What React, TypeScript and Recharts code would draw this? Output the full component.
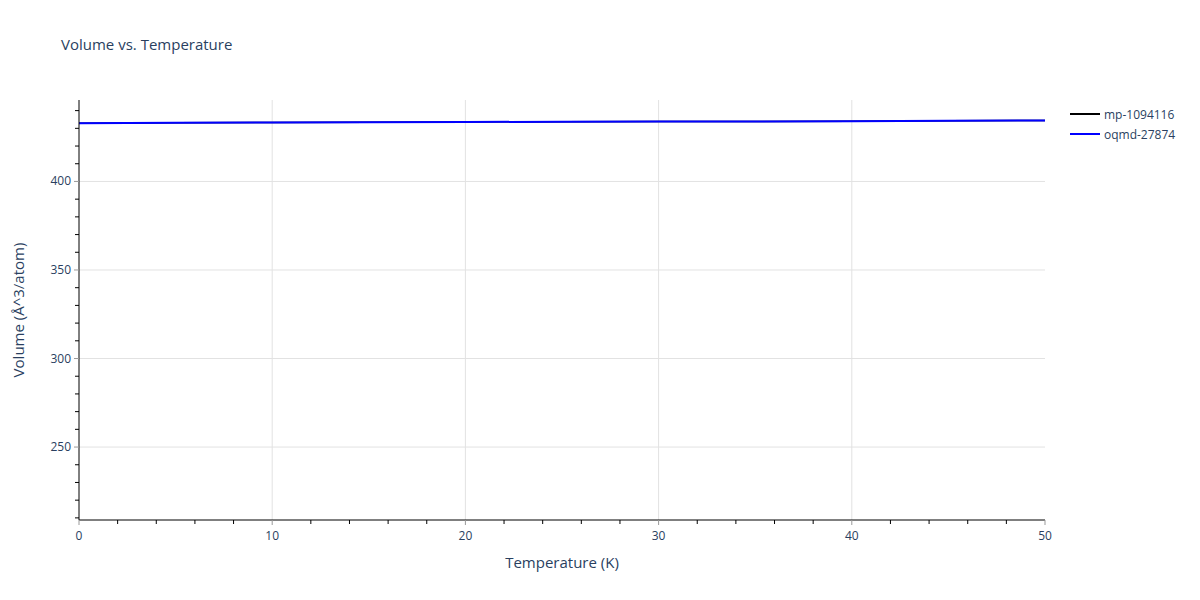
import React from "react";
import { LineChart, Line, XAxis, YAxis, CartesianGrid } from "recharts";

const temperatures = [0, 5, 10, 15, 20, 25, 30, 35, 40, 45, 50];
const mpVolume = [432.9, 433.1, 433.3, 433.45, 433.6, 433.7, 433.8, 433.9, 434.05, 434.25, 434.45];
const oqmdVolume = [432.9, 433.1, 433.3, 433.45, 433.6, 433.7, 433.8, 433.9, 434.05, 434.25, 434.45];

const xTicks = [0, 2, 4, 6, 8, 10, 12, 14, 16, 18, 20, 22, 24, 26, 28, 30, 32, 34, 36, 38, 40, 42, 44, 46, 48, 50];
const xMajorTicks = [0, 10, 20, 30, 40, 50];
const xGridValues = [10, 20, 30, 40];
const yTicks = [210, 220, 230, 240, 250, 260, 270, 280, 290, 300, 310, 320, 330, 340, 350, 360, 370, 380, 390, 400, 410, 420, 430, 440];
const yMajorTicks = [250, 300, 350, 400];
const yDomain = [208.8, 446];
const seriesNames = ["mp-1094116", "oqmd-27874"];
const seriesColors = ["#000000", "#0000ff"];

const data = temperatures.map((t, i) => ({ t, mp: mpVolume[i], oqmd: oqmdVolume[i] }));

const FONT = '"Open Sans", verdana, arial, sans-serif';
const TEXT = "#2a3f5f";

const XTick = (props: any) => {
  const { x, y, payload } = props;
  const major = xMajorTicks.includes(payload.value);
  return (
    <g>
      <line x1={x} x2={x} y1={y} y2={y + (major ? 5 : 4)} stroke={major ? "#999" : "#000"} strokeWidth={1} />
      {major && (
        <text x={x} y={y + 20} textAnchor="middle" fill={TEXT} fontSize={12} fontFamily={FONT}>
          {payload.value}
        </text>
      )}
    </g>
  );
};

const YTick = (props: any) => {
  const { x, y, payload } = props;
  const major = yMajorTicks.includes(payload.value);
  return (
    <g>
      <line x1={x - (major ? 5 : 4)} x2={x} y1={y} y2={y} stroke={major ? "#999" : "#000"} strokeWidth={1} />
      {major && (
        <text x={x - 8} y={y + 4} textAnchor="end" fill={TEXT} fontSize={12} fontFamily={FONT}>
          {payload.value}
        </text>
      )}
    </g>
  );
};

export default function App() {
  return (
    <div style={{ position: "absolute", left: 0, top: 0, width: 1200, height: 600, background: "#fff", fontFamily: FONT }}>
      <div style={{ position: "absolute", left: 61, top: 34, fontSize: 15, color: TEXT, fontFamily: FONT }}>
        Volume vs. Temperature
      </div>
      <div style={{ position: "absolute", left: 1068, top: 104, fontFamily: FONT, fontSize: 12, color: TEXT, zIndex: 2 }}>
        {seriesNames.map((n, i) => (
          <div key={n} style={{ display: "flex", alignItems: "center", height: 20 }}>
            <svg width={34} height={20}>
              <line x1={2} x2={32} y1={10} y2={10} stroke={seriesColors[i]} strokeWidth={2} />
            </svg>
            <span style={{ marginLeft: 2 }}>{n}</span>
          </div>
        ))}
      </div>
      <LineChart width={1200} height={600} data={data} margin={{ top: 100, right: 155, bottom: 50, left: 19 }}>
        <CartesianGrid stroke="#e2e2e2" strokeWidth={1} horizontalValues={yMajorTicks} verticalValues={xGridValues} />
        <XAxis
          dataKey="t"
          type="number"
          domain={[0, 50]}
          ticks={xTicks}
          interval={0}
          height={30}
          tickSize={0}
          tickMargin={0}
          tickLine={false}
          tick={<XTick />}
          axisLine={{ stroke: "#000", strokeWidth: 1 }}
          label={{ value: "Temperature (K)", position: "center", dy: 28, style: { fill: TEXT, fontSize: 15, fontFamily: FONT } }}
        />
        <YAxis
          type="number"
          domain={yDomain}
          allowDataOverflow
          ticks={yTicks}
          interval={0}
          width={60}
          tickSize={0}
          tickMargin={0}
          tickLine={false}
          tick={<YTick />}
          axisLine={{ stroke: "#000", strokeWidth: 1 }}
          label={{ value: "Volume (Å^3/atom)", angle: -90, position: "center", dx: -30, style: { fill: TEXT, fontSize: 15, fontFamily: FONT, textAnchor: "middle" } }}
        />
        <Line dataKey="mp" name={seriesNames[0]} stroke={seriesColors[0]} strokeWidth={1.5} dot={false} isAnimationActive={false} />
        <Line dataKey="oqmd" name={seriesNames[1]} stroke={seriesColors[1]} strokeWidth={2} dot={false} isAnimationActive={false} />
      </LineChart>
    </div>
  );
}
